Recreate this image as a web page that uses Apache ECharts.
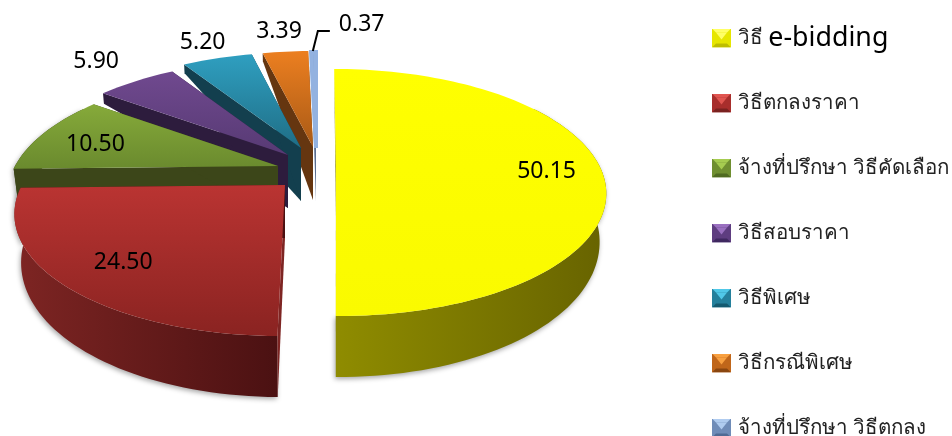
<!DOCTYPE html>
<html><head><meta charset="utf-8">
<style>html,body{margin:0;padding:0;background:#fff}#c{width:952px;height:436px}</style>
<script src="https://cdn.jsdelivr.net/npm/echarts@6/dist/echarts.min.js"></script>
</head><body><div id="c"></div>
<script>
const categories = ['วิธี e-bidding','วิธีตกลงราคา','จ้างที่ปรึกษา วิธีคัดเลือก','วิธีสอบราคา','วิธีพิเศษ','วิธีกรณีพิเศษ','จ้างที่ปรึกษา วิธีตกลง'];
const values = [50.15,24.50,10.50,5.90,5.20,3.39,0.37];
const valueLabels = ['50.15','24.50','10.50','5.90','5.20','3.39','0.37'];

// styling / layout, separate from the data
const topColors  = [['#FFFF00','#FAFA00'],['#BA3432','#8A2321'],['#86AA3A','#6A8A2E'],['#70498F','#573A74'],['#2F9FC0','#1F6E86'],['#EC7F20','#A95A16'],['#93B2E0','#5F7CA8']];
const sideColors = [['#8F8C00','#676300'],['#7E2523','#4B1112'],['#3C4619','#3C4619'],['#2D1C3D','#2D1C3D'],['#133F4E','#133F4E'],['#653610','#653610'],['#5A6E90','#5A6E90']];
const bevel = [['#FFFF66','#E6E600','#BDBD00'],['#E05550','#A82E2C','#7A2220'],['#A6CC50','#6F8F30','#4F6A20'],['#9A70C0','#5E3D80','#3F2860'],['#50C8E8','#24809C','#145A70'],['#F8A040','#C0661A','#8A4610'],['#B0CCF0','#6F8CB8','#4F6A94']];
const explode = [[20,0],[-31,20],[-38,1],[-28,-10],[-15,-17],[-3,-18],[0,-17]];
const labelRadius = [0.8,0.76,0.77,1.32,1.22,1.3,null];
const labelDy = [6,5,4,0,0,2,0];
const paintOrder = [7,6,5,4,3,2,1];
const CX=316, CY=165, RH=263, RV=117.4, K=0.2227, APEX_DEPTH=53;
const LEGEND_Y0=38, LEGEND_STEP=65;
const FONT='"Noto Sans", "Open Sans", sans-serif';

const total = values.reduce((a,b)=>a+b,0);
let acc=0;
const angles = values.map(v=>{const a=acc/total*Math.PI*2; acc+=v; return [a,acc/total*Math.PI*2];});

function proj(ap,r,t){
  const X=r*Math.sin(t),Y=r*Math.cos(t),s=1/(1+K*Y);
  return [ap[0]+X*RH*s+0.5*(ap[0]-CX)*(s-1), ap[1]-Y*RV*s];
}
function rimDepth(t){
  const y=Math.cos(t);
  const tab=[[-1,61],[0,46],[0.6,10],[1,8]];
  for(let i=0;i<3;i++){ if(y<=tab[i+1][0]){const f=(y-tab[i][0])/(tab[i+1][0]-tab[i][0]);return tab[i][1]+f*(tab[i+1][1]-tab[i][1]);}}
  return 8;
}
function down(ap,p,d){const f=1-0.0005*d;return [ap[0]+(p[0]-ap[0])*f,p[1]+d];}
const LG=(c,h)=>new echarts.graphic.LinearGradient(0,0,h?1:0,h?0:1,[{offset:0,color:c[0]},{offset:1,color:c[1]}]);

function makeRender(i){
  return function(params,api){
    const ap=[CX+explode[i][0],CY+explode[i][1]], [a0,a1]=angles[i];
    const n=Math.max(6,Math.ceil((a1-a0)/0.03));
    const rim=[],rimB=[],fr=[],frB=[];
    for(let k=0;k<=n;k++){
      const t=a0+(a1-a0)*k/n;const p=proj(ap,1,t),q=down(ap,p,rimDepth(t));
      rim.push(p);rimB.push(q);
      if(Math.cos(t)<0.55){fr.push(p);frB.push(q);}
    }
    const apD=[ap[0],ap[1]+APEX_DEPTH];
    const side=sideColors[i];
    const thin=values[i]/total<0.01;
    const children=[];
    if(fr.length>1) children.push({type:'polygon',shape:{points:fr.concat(frB.slice().reverse())},style:{fill:LG(side,true),shadowBlur:5,shadowColor:'rgba(0,0,0,0.35)',shadowOffsetX:-1,shadowOffsetY:2}});
    children.push(
      {type:'polygon',shape:{points:[ap,rim[0],rimB[0],apD]},style:{fill:side[0]}},
      {type:'polygon',shape:{points:[ap,rim[n],rimB[n],apD]},style:{fill:side[1]}},
      {type:'polygon',shape:{points:[ap].concat(rim)},style:{fill:LG(topColors[i],false),stroke:thin?topColors[i][0]:null,lineWidth:thin?4:0}}
    );
    if(labelRadius[i]!=null){
      const mid=(a0+a1)/2, lp=proj(ap,labelRadius[i],mid);
      children.push({type:'text',x:lp[0],y:lp[1]+labelDy[i],style:{text:valueLabels[i],font:'23px '+FONT,fill:'#000',align:'center',verticalAlign:'middle'}});
    }else{
      const r=proj(ap,1,a1-0.01), e=[r[0]+4,r[1]-21], f=[e[0]+12,e[1]];
      children.push({type:'polyline',shape:{points:[[r[0]-1,r[1]-1],e,f]},style:{stroke:'#000',lineWidth:2,fill:null}});
      children.push({type:'text',x:f[0]+9,y:e[1]-7,style:{text:valueLabels[i],font:'23px '+FONT,fill:'#000',align:'left',verticalAlign:'middle'}});
    }
    return {type:'group',children};
  };
}
function iconUrl(b){
  const svg=`<svg xmlns="http://www.w3.org/2000/svg" width="19" height="19"><rect width="19" height="19" fill="${b[1]}"/><polygon points="0,0 19,0 15,4 4,4" fill="${b[0]}"/><polygon points="0,19 19,19 15,15 4,15" fill="${b[2]}"/><polygon points="4,4 15,4 9.5,11" fill="${b[0]}"/></svg>`;
  return 'image://data:image/svg+xml;charset=utf-8,'+encodeURIComponent(svg);
}
const chart=echarts.init(document.getElementById('c'),null,{renderer:'canvas'});
chart.setOption({
  animation:false,
  backgroundColor:'#fff',
  legend:categories.map((n,i)=>({
    orient:'vertical',left:712,top:LEGEND_Y0+LEGEND_STEP*i-14,padding:0,itemWidth:19,itemHeight:19,selectedMode:false,
    data:[{name:n,icon:iconUrl(bevel[i])}],
    formatter:s=>s.includes('e-bidding')?'{a|วิธี }{b|e-bidding}':'{a|'+s+'}',
    textStyle:{fontFamily:FONT,color:'#222',
      rich:{a:{fontFamily:FONT,fontSize:20.5,color:'#222',height:28,lineHeight:28,padding:[0,0,0,2]},b:{fontFamily:FONT,fontSize:26.8,color:'#000',height:28,lineHeight:28}}}
  })),
  series:categories.map((n,i)=>({
    type:'custom',name:n,coordinateSystem:'none',z:paintOrder[i],silent:true,
    itemStyle:{color:topColors[i][0]},
    data:[values[i]],renderItem:makeRender(i)
  }))
});
</script></body></html>
